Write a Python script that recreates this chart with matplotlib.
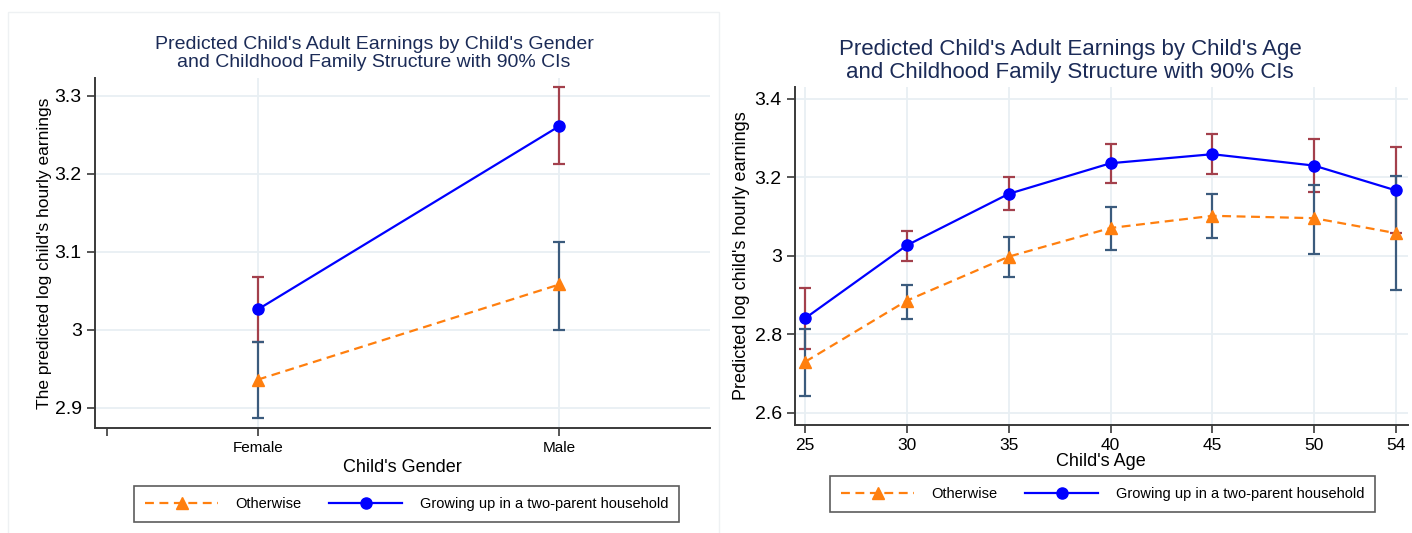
"""Predicted adult earnings by gender / age and family structure (marginsplot style)."""
import matplotlib
matplotlib.use('Agg')
import matplotlib.pyplot as plt
from matplotlib.lines import Line2D
from matplotlib.patches import Rectangle

plt.rcParams['font.family'] = ['Liberation Sans', 'DejaVu Sans']

# Left panel: by gender
genders = ['Female', 'Male']
gender_pos = [1, 2]
two_parent_g = [3.026, 3.261]
two_parent_g_lo = [2.984, 3.212]
two_parent_g_hi = [3.067, 3.311]
other_g = [2.936, 3.058]
other_g_lo = [2.887, 3.000]
other_g_hi = [2.984, 3.113]

# Right panel: by age
ages = [25, 30, 35, 40, 45, 50, 54]
two_parent_a = [2.841, 3.027, 3.158, 3.236, 3.259, 3.230, 3.167]
two_parent_a_lo = [2.763, 2.988, 3.116, 3.186, 3.209, 3.163, 3.057]
two_parent_a_hi = [2.919, 3.064, 3.200, 3.286, 3.311, 3.298, 3.277]
other_a = [2.730, 2.886, 2.998, 3.071, 3.102, 3.096, 3.058]
other_a_lo = [2.643, 2.839, 2.947, 3.014, 3.045, 3.006, 2.914]
other_a_hi = [2.813, 2.927, 3.047, 3.125, 3.158, 3.181, 3.203]

BLUE = '#0000ff'
ORANGE = '#ff7f0e'
RED_CI = '#a3404c'
BLUE_CI = '#3b5b7d'
TITLE_C = '#1b2b57'
GRID_C = '#e8eff3'
SPINE_C = '#3a3a3a'


def draw_panel(ax, x, y2, lo2, hi2, y1, lo1, hi1):
    # confidence intervals first, markers sit on top
    ax.errorbar(x, y2, yerr=[[a - b for a, b in zip(y2, lo2)], [b - a for a, b in zip(y2, hi2)]],
                fmt='none', ecolor=RED_CI, elinewidth=1.6, capsize=4, capthick=1.6, zorder=2)
    ax.errorbar(x, y1, yerr=[[a - b for a, b in zip(y1, lo1)], [b - a for a, b in zip(y1, hi1)]],
                fmt='none', ecolor=BLUE_CI, elinewidth=1.6, capsize=4, capthick=1.6, zorder=2)
    ax.plot(x, y1, color=ORANGE, ls=(0, (4, 2.5)), lw=1.6, marker='^', ms=8, zorder=3)
    ax.plot(x, y2, color=BLUE, lw=1.6, marker='o', ms=8, zorder=4)
    for s in ['top', 'right']:
        ax.spines[s].set_visible(False)
    for s in ['left', 'bottom']:
        ax.spines[s].set_color(SPINE_C)
        ax.spines[s].set_linewidth(1.4)
    ax.grid(True, color=GRID_C, lw=1.3, zorder=0)
    ax.set_axisbelow(True)
    ax.tick_params(colors='black', length=6, width=1.2, color=SPINE_C)


fig = plt.figure(figsize=(14.12, 5.33), dpi=100)

# faint panel frame
fig.add_artist(Rectangle((0.006, -0.01), 0.503, 0.987, transform=fig.transFigure,
                         fill=False, ec='#eef1f3', lw=1.0))

# ---- left panel
ax1 = fig.add_axes([0.0673, 0.197, 0.4355, 0.657])
draw_panel(ax1, gender_pos, two_parent_g, two_parent_g_lo, two_parent_g_hi,
           other_g, other_g_lo, other_g_hi)
ax1.set_xlim(0.46, 2.5)
ax1.set_ylim(2.874, 3.323)
ax1.set_xticks([0.5] + gender_pos)
ax1.set_xticklabels([''] + genders, fontsize=11)
ax1.set_yticks([2.9, 3.0, 3.1, 3.2, 3.3])
ax1.set_yticklabels(['2.9', '3', '3.1', '3.2', '3.3'], fontsize=14)
ax1.get_xgridlines()[0].set_visible(False)
ax1.set_xlabel("Child's Gender", fontsize=13, labelpad=3)
ax1.set_ylabel("The predicted log child's hourly earnings", fontsize=12.5, labelpad=2)
fig.text(374 / 1412, 0.900,
         "Predicted Child's Adult Earnings by Child's Gender\nand Childhood Family Structure with 90% CIs",
         fontsize=14, color=TITLE_C, ha='center', va='center', linespacing=1.1)

# ---- right panel
ax2 = fig.add_axes([0.563, 0.2026, 0.434, 0.634])
draw_panel(ax2, ages, two_parent_a, two_parent_a_lo, two_parent_a_hi,
           other_a, other_a_lo, other_a_hi)
ax2.set_xlim(24.5, 54.6)
ax2.set_ylim(2.569, 3.43)
ax2.set_xticks(ages)
ax2.set_xticklabels([str(a) for a in ages], fontsize=12.5)
ax2.set_yticks([2.6, 2.8, 3.0, 3.2, 3.4])
ax2.set_yticklabels(['2.6', '2.8', '3', '3.2', '3.4'], fontsize=14)
ax2.set_xlabel("Child's Age", fontsize=13, labelpad=0)
ax2.set_ylabel("Predicted log child's hourly earnings", fontsize=13, labelpad=3)
fig.text(1070 / 1412, 0.885,
         "Predicted Child's Adult Earnings by Child's Age\nand Childhood Family Structure with 90% CIs",
         fontsize=16, color=TITLE_C, ha='center', va='center', linespacing=1.1)

handles = [Line2D([], [], color=ORANGE, ls=(0, (4, 2.5)), lw=1.6, marker='^', ms=8),
           Line2D([], [], color=BLUE, lw=1.6, marker='o', ms=8)]
labels = ['Otherwise', 'Growing up in a two-parent household']
for cx, cy in [(0.288, 0.054), (0.781, 0.073)]:
    leg = fig.legend(handles, labels, loc='center', bbox_to_anchor=(cx, cy), ncol=2,
                     fontsize=10.5, frameon=True, fancybox=False, handlelength=5.0,
                     handletextpad=1.2, columnspacing=1.9, borderpad=0.75)
    leg.get_frame().set_edgecolor('#333333')
    leg.get_frame().set_linewidth(1.2)

fig.savefig('out.png', dpi=100)
